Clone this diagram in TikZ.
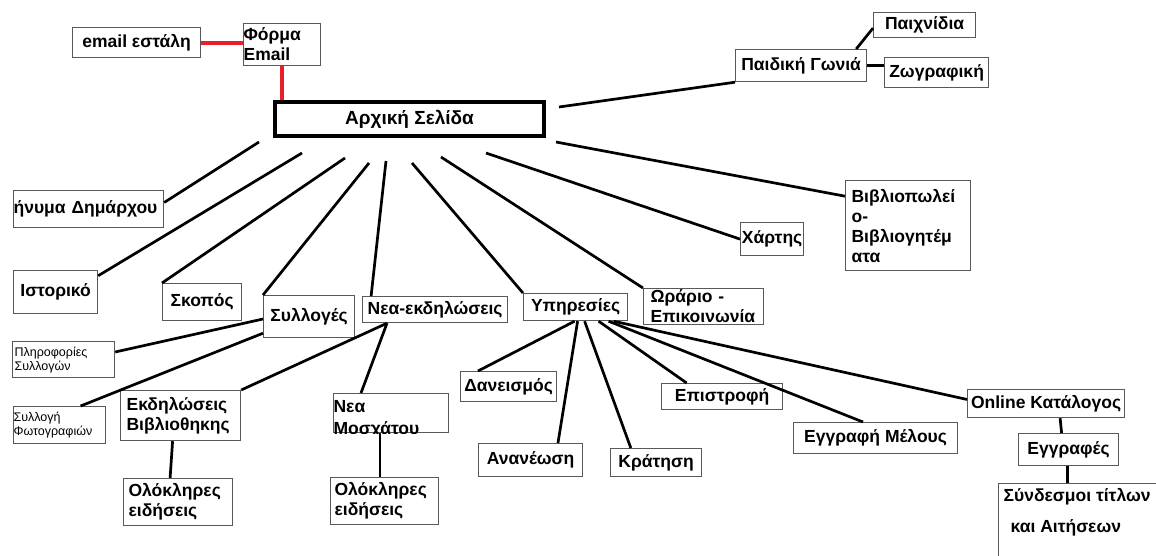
\documentclass[tikz,border=0pt]{standalone}
\usepackage{fontspec}
\setmainfont{Liberation Sans}
\usetikzlibrary{calc}
\definecolor{linkred}{RGB}{232,30,40}

\begin{document}
\begin{tikzpicture}[x=1pt, y=-1pt,
        box/.style={draw=black!65, line width=1.2pt, anchor=north west, inner sep=0pt, align=center, font=\bfseries\fontsize{17.5}{20}\selectfont},
        lbox/.style={box, align=left},
        smalltext/.style={font=\fontsize{12.5}{14}\selectfont},
        link/.style={line width=2.7pt},
        redlink/.style={link, line width=3.8pt, draw=linkred}]
        \fill[white] (0,0) rectangle (1156,555);
        \useasboundingbox (0,0) rectangle (1156,555);

        \node[box, draw=black, line width=4pt, minimum width=269, minimum height=34, font=\bfseries\fontsize{19}{22}\selectfont] (home) at (273,100) {Αρχική Σελίδα};
        \node[box, minimum width=128, minimum height=30] (sent) at (72,27) {email εστάλη};
        \node[lbox, text width=77, minimum height=42] (form) at (243,23) {Φόρμα\\Email};

        \node[box, minimum width=131, minimum height=32] (paid) at (735,49) {Παιδική Γωνιά};
        \node[box, minimum width=102, minimum height=25] (paixn) at (873,12) {Παιχνίδια};
        \node[box, minimum width=104, minimum height=30] (zogr) at (884,57) {Ζωγραφική};

        \node[lbox, text width=150, minimum height=37] (mayor) at (13,190) {ήνυμα Δημάρχου};
        \node[box, minimum width=84, minimum height=43] (istor) at (13,270) {Ιστορικό};
        \node[box, minimum width=79, minimum height=37] (skopos) at (162,283) {Σκοπός};
        \node[box, minimum width=91, minimum height=42] (syll) at (263,295) {Συλλογές};
        \node[box, minimum width=145, minimum height=26] (neaekd) at (362,296) {Νεα-εκδηλώσεις};
        \node[box, minimum width=104, minimum height=27] (ypir) at (523,293) {Υπηρεσίες};
        \node[lbox, text width=106, inner xsep=7pt, minimum height=36] (orario) at (643,288) {Ωράριο -\\Επικοινωνία};
        \node[box, minimum width=63, minimum height=33] (xartis) at (740,222) {Χάρτης};
        \node[lbox, text width=113, inner xsep=6pt, minimum height=90] (biblio) at (845,180) {Βιβλιοπωλεί\\ο-\\Βιβλιογητέμ\\ατα};

        \node[lbox, smalltext, text width=98, inner xsep=2pt, minimum height=36] (plir) at (12,341) {Πληροφορίες\\Συλλογών};
        \node[lbox, smalltext, text width=92, minimum height=37] (fotog) at (13,406) {Συλλογή\\Φωτογραφιών};
        \node[lbox, text width=108, inner xsep=6pt, minimum height=50] (ekd) at (120,390) {Εκδηλώσεις\\Βιβλιοθηκης};
        \node[lbox, text width=99, inner xsep=5pt, minimum height=47] (olok1) at (123,478) {Ολόκληρες\\ειδήσεις};
        \begin{scope}
        \clip (332,392) rectangle (449,433);
        \node[box] (neamos) at (333,393) {\parbox[t][39pt][t]{115pt}{\vspace*{7pt}Νεα\\[2pt]Μοσχάτου}};
        \end{scope}
        \node[lbox, text width=100, inner xsep=4pt, minimum height=47] (olok2) at (330,477) {Ολόκληρες\\ειδήσεις};

        \node[box, minimum width=96, minimum height=30] (danei) at (460,371) {Δανεισμός};
        \node[box, minimum width=104, minimum height=33] (anan) at (478,443) {Ανανέωση};
        \node[box, minimum width=91, minimum height=28] (krat) at (610,448) {Κράτηση};
        \node[box, minimum width=121, minimum height=26] (epist) at (661,383) {Επιστροφή};
        \node[box, minimum width=164, minimum height=31] (eggrmel) at (793,422) {Εγγραφή Μέλους};
        \node[box, minimum width=157, minimum height=28] (online) at (967,389) {Online Κατάλογος};
        \node[box, minimum width=100, minimum height=32] (eggrafes) at (1018,433) {Εγγραφές};
        \node[box, inner xsep=5pt] (synd) at (998,483) {\parbox[t][80pt][t]{200pt}{\vspace*{5pt}Σύνδεσμοι τίτλων\\[11pt]\hspace*{7pt}και Αιτήσεων}};

        \draw[redlink] (sent.east) -- (sent.east -| form.west);
        \draw[redlink] (form.south) -- (form.south |- home.north);

        \foreach \x/\y/\t [count=\i] in {259/142/mayor.5, 302/153/istor.21, 345/158/skopos.north west, 369/163/syll.north west, 386/161/neaekd.168, 412/163/ypir.north west, 441/157/orario.north west, 486/153/xartis.west, 556/142/biblio.155, 559/107/paid.south west}{
        \coordinate (h\i) at (\x,\y);
        \draw[link] (h\i) -- (\t);
        }

        \draw[link] ([xshift=-11]paid.north east) -- ([yshift=-3]paixn.west);
        \draw[link] (paid.east) -- (paid.east -| zogr.west);

        \draw[link] ([yshift=-24]syll.north west) -- ([yshift=-11]plir.north east);
        \draw[link] ([yshift=5]syll.south west) -- ([xshift=21]fotog.north);
        \draw[link] ([xshift=25]neaekd.south west) -- (ekd.north east);
        \draw[link] ([xshift=25]neaekd.south west) -- ([xshift=28]neamos.north west);
        \draw[link] ([xshift=-8]ekd.south) -- ([xshift=-8]olok1.north);
        \draw[link] ([xshift=-11]neamos.south) -- ([xshift=-11]neamos.south |- olok2.north);

        \foreach \dx/\t in {-1/danei.153, 2/anan.32, 9/krat.150, 23/epist.159, 33/eggrmel.128, 38/online.177}{
        \draw[link] ([xshift=\dx]ypir.south) -- (\t);
        }
        \draw[link] ([xshift=14]online.south) -- ([xshift=-7]eggrafes.north);
        \draw[link] ([xshift=-1]eggrafes.south) -- ([xshift=-1]eggrafes.south |- synd.north);
    \end{tikzpicture}
\end{document}
